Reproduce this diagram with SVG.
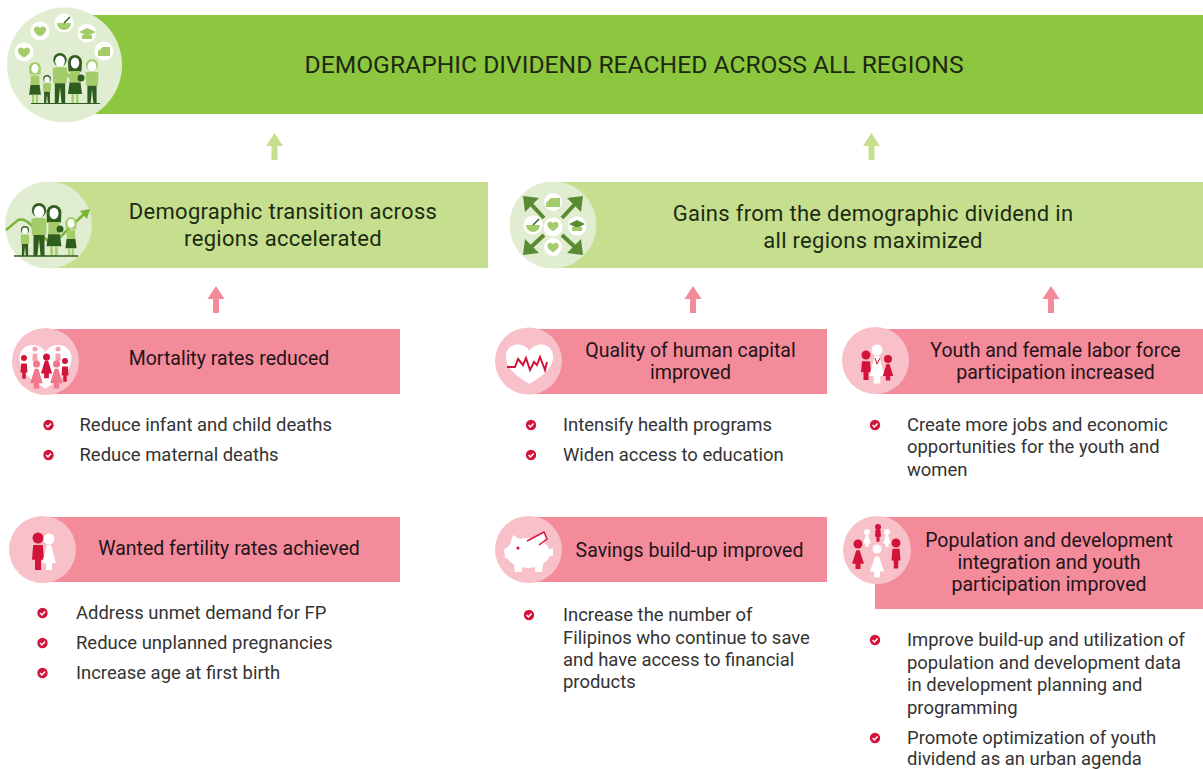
<svg xmlns="http://www.w3.org/2000/svg" width="1203" height="769" viewBox="0 0 1203 769">
<style>
text{font-family:Roboto,"Liberation Sans",sans-serif;fill:#2b2b2b}
.t1{font-size:24.65px;fill:#1d2a12;text-anchor:middle}
.t2{font-size:22px;fill:#1d2a12;text-anchor:middle;letter-spacing:.3px}
.t3{font-size:19.5px;fill:#231418;text-anchor:middle}
.b{font-size:18.45px;fill:#333}
.bar1{fill:#8dc63f}.bar2{fill:#c5df8e}.bar3{fill:#f48b9b}
.c1{fill:#e0edd0}.c3{fill:#f8c0c8}
.wh{fill:#fff}.cr{fill:#d2143a}.pk{fill:#f2768c}.lp{fill:#f7a0ae}
.dg{fill:#2f5d1e}.lg{fill:#a4cc6a}.mg{fill:#5a8a33}
.up1{fill:#c5df8e}.up2{fill:#f48b9b}
.ln{fill:none;stroke:#5a8a33;stroke-width:4}
</style>
<defs>
<g id="chk"><circle r="5.2" fill="#d2143a"/><path d="M-2.4,0 L-.6,1.9 L2.6,-1.6" fill="none" stroke="#fff" stroke-width="1.5"/></g>
<path id="up" d="M0,-13.500 L8.500,-0.500 L3,-0.500 L3,13.500 L-3,13.500 L-3,-0.500 L-8.500,-0.500 Z"/>
<path id="heart" d="M0,-6 C-4,-14 -20,-14 -20,-1 C-20,10 -8,17 0,22 C8,17 20,10 20,-1 C20,-14 4,-14 0,-6Z"/>
<g id="body-m"><path d="M-14,29 Q0,25 14,29 L13,58 H-13Z" class="lg"/><path d="M-10,58 H10 L10,97 H3 L0,66 L-3,97 H-10Z" class="dg"/></g>
<g id="man"><circle cy="13" r="13" class="dg"/><ellipse cy="16" rx="9.500" ry="11" class="wh"/><use href="#body-m"/></g>
<g id="man2"><circle cy="13" r="13" class="lg"/><ellipse cy="16" rx="9.500" ry="11" class="wh"/><use href="#body-m"/></g>
<g id="body-w"><path d="M-10,32 H10 L11,55 H-11Z" class="lg"/><path d="M-11,55 H11 L14,78 H-14Z" class="dg"/><path d="M-7,78 H-2 V97 H-7ZM2,78 H7 V97 H2Z" class="lg"/></g>
<g id="wom"><path d="M-14,14 A14,14 0 0 1 14,14 L13,33 H-13Z" class="dg"/><ellipse cy="16" rx="8.500" ry="11" class="wh"/><use href="#body-w"/></g>
<g id="wom2"><path d="M-14,14 A14,14 0 0 1 14,14 L13,30 H-13Z" class="lg"/><ellipse cy="16" rx="8.500" ry="11" class="wh"/><use href="#body-w"/></g>
<path id="pb" d="M-4,-8 H4 L5,5 H2.500 V14 H-2.500 V5 H-5Z"/>
<path id="pd" d="M-2,-8 H2 L7,8 H3 V14 H-3 V8 H-7Z"/>
</defs>

<g id="connectors">
<use href="#up" x="274.500" y="146.500" class="up1"/>
<use href="#up" x="871.500" y="146.500" class="up1"/>
<use href="#up" x="216" y="299.500" class="up2"/>
<use href="#up" x="693" y="299.500" class="up2"/>
<use href="#up" x="1051" y="299.500" class="up2"/>
</g>

<g id="goal">
<rect class="bar1" x="65" y="15" width="1138" height="99"/>
<circle class="c1" cx="64.500" cy="65" r="57.500"/>
<circle class="wh" cx="24" cy="52" r="9.500"/><circle class="wh" cx="40" cy="31" r="9.500"/><circle class="wh" cx="64" cy="23" r="9.500"/><circle class="wh" cx="87" cy="33" r="9.500"/><circle class="wh" cx="104" cy="51" r="9.500"/>
<use href="#heart" transform="translate(24,51) scale(.3)" class="lg"/>
<use href="#heart" transform="translate(40,30) scale(.3)" class="lg"/>
<path d="M57,23 H71 A7,7 0 0 1 57,23Z" class="lg"/><path d="M64,23 L70,17" stroke="#2f5d1e" stroke-width="1.500"/>
<path d="M79,32 L87,28 L96,32 L87,36Z" class="lg"/><path d="M82,35 H92 V39 H82Z" class="lg"/>
<path d="M98,51 L103,47 H110 V56 H98Z" class="lg"/>
<g transform="translate(35,62) scale(.42)"><use href="#wom2"/></g>
<g transform="translate(47,75) scale(.29)"><use href="#man"/></g>
<g transform="translate(60,53) scale(.52)"><use href="#man"/></g>
<path d="M66,74 L76,80" stroke="#a4cc6a" stroke-width="4"/>
<g transform="translate(75,55) scale(.5)"><use href="#wom"/></g>
<circle cx="81" cy="78" r="3.500" class="dg"/>
<g transform="translate(92,59) scale(.46)"><use href="#man2"/></g>
<path d="M31,103.500 H100" stroke="#2f5d1e" stroke-width="1"/>
<text class="t1" x="634" y="73">DEMOGRAPHIC DIVIDEND REACHED ACROSS ALL REGIONS</text>
</g>

<g id="transition">
<rect class="bar2" x="49" y="182" width="439" height="86"/>
<circle class="c1" cx="48.500" cy="225" r="43.500"/>
<path d="M6,230 L18,220 Q24,218 30,224 L52,245 L84,214" fill="none" stroke="#7ab536" stroke-width="2.500"/>
<path d="M90,209 L80,211 L87,219Z" fill="#7ab536"/>
<g transform="translate(25,226) scale(.31)"><use href="#man"/></g>
<g transform="translate(39,203) scale(.55)"><use href="#man"/></g>
<g transform="translate(54,205) scale(.53)"><use href="#wom"/></g>
<circle cx="60" cy="229" r="3.500" class="dg"/>
<g transform="translate(71,217) scale(.4)"><use href="#wom2"/></g>
<path d="M14,256 H78" stroke="#2f5d1e" stroke-width="1.500"/>
<text class="t2" x="283" y="219">Demographic transition across</text>
<text class="t2" x="283" y="246">regions accelerated</text>
</g>

<g id="gains">
<rect class="bar2" x="553" y="182" width="650" height="86"/>
<circle class="c1" cx="553" cy="225" r="43.500"/>
<path class="ln" d="M544,218 L530,203M562,218 L576,203M544,235 L530,248M562,235 L576,248"/>
<path class="mg" d="M523,196 L539,198 L525,212Z"/>
<path class="mg" d="M583,196 L567,198 L581,212Z"/>
<path class="mg" d="M523,255 L539,253 L525,239Z"/>
<path class="mg" d="M583,255 L567,253 L581,239Z"/>
<circle class="wh" cx="553" cy="202" r="9"/><circle class="wh" cx="533" cy="225" r="9.500"/><circle class="wh" cx="553" cy="227" r="9.500"/><circle class="wh" cx="577" cy="226" r="9.500"/><circle class="wh" cx="553" cy="247" r="9"/>
<path d="M546,203 L551,198 H560 V207 H546Z" class="lg"/>
<path d="M526,225 H540 A7,7 0 0 1 526,225Z" class="lg"/><path d="M533,225 L539,219" stroke="#2f5d1e" stroke-width="1.500"/>
<use href="#heart" transform="translate(553,225) scale(.28)" class="lg"/>
<path d="M569,224 L577,220 L585,224 L577,228Z" class="mg"/><path d="M572,227 H582 V231 H572Z" class="lg"/>
<use href="#heart" transform="translate(553,246) scale(.28)" class="lg"/>
<text class="t2" x="873" y="220.500">Gains from the demographic dividend in</text>
<text class="t2" x="873" y="247.500">all regions maximized</text>
</g>

<g id="mortality">
<rect class="bar3" x="45" y="329" width="355" height="65"/>
<circle class="c3" cx="45.500" cy="361.500" r="33.500"/>
<use href="#heart" transform="translate(45.500,360) scale(1.300)" class="wh"/>
<circle cx="24" cy="358" r="3" class="cr"/><use href="#pb" transform="translate(24,369) scale(.7)" class="cr"/>
<circle cx="35" cy="349" r="2.500" class="lp"/><use href="#pb" transform="translate(35,358) scale(.55)" class="lp"/>
<circle cx="36.500" cy="364" r="3.500" class="pk"/><use href="#pd" transform="translate(36.500,376) scale(.9)" class="pk"/>
<circle cx="46.500" cy="357" r="3.500" class="cr"/><use href="#pd" transform="translate(46.500,367) scale(.8)" class="cr"/>
<circle cx="58" cy="349" r="2.500" class="lp"/><use href="#pb" transform="translate(58,358) scale(.55)" class="lp"/>
<circle cx="56.500" cy="364" r="3.500" class="pk"/><use href="#pd" transform="translate(56.500,376) scale(.9)" class="pk"/>
<circle cx="65" cy="361" r="3" class="cr"/><use href="#pb" transform="translate(65,372) scale(.7)" class="cr"/>
<text class="t3" x="229" y="365">Mortality rates reduced</text>
</g>
<g id="mortality-list">
<use href="#chk" x="48.500" y="425"/><text class="b" x="79.500" y="431">Reduce infant and child deaths</text>
<use href="#chk" x="48.500" y="455"/><text class="b" x="79.500" y="461">Reduce maternal deaths</text>
</g>

<g id="fertility">
<rect class="bar3" x="43" y="517" width="357" height="65"/>
<circle class="c3" cx="42.500" cy="549.500" r="33.500"/>
<circle cx="38" cy="538" r="5.500" class="cr"/><use href="#pb" transform="translate(38,554) scale(1.200,1.140)" class="cr"/>
<circle cx="49" cy="539" r="5.500" class="wh"/><use href="#pd" transform="translate(49,554) scale(1,1.140)" class="wh"/>
<text class="t3" x="229" y="555">Wanted fertility rates achieved</text>
</g>
<g id="fertility-list">
<use href="#chk" x="42.500" y="613"/><text class="b" x="76" y="619">Address unmet demand for FP</text>
<use href="#chk" x="42.500" y="643"/><text class="b" x="76" y="649">Reduce unplanned pregnancies</text>
<use href="#chk" x="42.500" y="673"/><text class="b" x="76" y="679">Increase age at first birth</text>
</g>

<g id="quality">
<rect class="bar3" x="528" y="329" width="299" height="65"/>
<circle class="c3" cx="528.500" cy="361" r="33.500"/>
<use href="#heart" transform="translate(529.500,358) scale(1.180)" class="wh"/>
<path d="M507,367 H515 L518,359 L523,365 L526,358 L530,370 L534,362 L537,365 L540,357 L545,370 L547,362" fill="none" stroke="#d2143a" stroke-width="2"/>
<text class="t3" x="690.500" y="357">Quality of human capital</text>
<text class="t3" x="690.500" y="379">improved</text>
</g>
<g id="quality-list">
<use href="#chk" x="531" y="425"/><text class="b" x="563" y="431">Intensify health programs</text>
<use href="#chk" x="531" y="455"/><text class="b" x="563" y="461">Widen access to education</text>
</g>

<g id="savings">
<rect class="bar3" x="528" y="517" width="299" height="65"/>
<circle class="c3" cx="528.500" cy="549.500" r="33.500"/>
<ellipse cx="528" cy="553" rx="22" ry="15" class="wh"/>
<path d="M510,545 L513,535 L523,541ZM504,549 L512,546 V560 L505,558ZM513,560 H522 V572 H515ZM535,560 H544 L542,572 H535ZM548,550 L553,548 V556 L548,556Z" class="wh"/>
<circle cx="518" cy="548" r="1.600" class="cr"/>
<path d="M527,541 L544,532 L547,539 L539,545" fill="#fff" stroke="#d2143a" stroke-width="1.500"/>
<text class="t3" x="689.500" y="557">Savings build-up improved</text>
</g>
<g id="savings-list">
<use href="#chk" x="529" y="615"/>
<text class="b" x="563" y="621">Increase the number of</text>
<text class="b" x="563" y="644">Filipinos who continue to save</text>
<text class="b" x="563" y="666">and have access to financial</text>
<text class="b" x="563" y="688">products</text>
</g>

<g id="youth">
<rect class="bar3" x="875" y="329" width="328" height="65"/>
<circle class="c3" cx="875.500" cy="360.500" r="33.500"/>
<circle cx="866" cy="355" r="4.500" class="cr"/><use href="#pb" transform="translate(866,368) scale(1,.85)" class="cr"/>
<circle cx="877" cy="350" r="5.500" class="wh"/><use href="#pd" transform="translate(877,366) scale(1.100,1.250)" class="wh"/>
<path d="M875,358 L877,364 L880,358" fill="none" stroke="#d2143a" stroke-width="1"/>
<circle cx="888" cy="359" r="4" class="cr"/><use href="#pd" transform="translate(888,370) scale(.75)" class="cr"/>
<text class="t3" x="1055.500" y="357">Youth and female labor force</text>
<text class="t3" x="1055.500" y="379">participation increased</text>
</g>
<g id="youth-list">
<use href="#chk" x="875" y="425"/>
<text class="b" x="907" y="431">Create more jobs and economic</text>
<text class="b" x="907" y="453">opportunities for the youth and</text>
<text class="b" x="907" y="476">women</text>
</g>

<g id="integration">
<rect class="bar3" x="875" y="517" width="328" height="92"/>
<circle class="c3" cx="877" cy="550" r="34"/>
<circle cx="878" cy="527" r="3" class="cr"/><use href="#pb" transform="translate(878,534) scale(.6,.55)" class="cr"/>
<circle cx="867" cy="532" r="3" class="wh"/><use href="#pd" transform="translate(867,539) scale(.55)" class="wh"/>
<circle cx="887" cy="532" r="3" class="wh"/><use href="#pd" transform="translate(887,539) scale(.55)" class="wh"/>
<circle cx="858" cy="544" r="4.500" class="cr"/><use href="#pd" transform="translate(858,557) scale(.85)" class="cr"/>
<circle cx="896" cy="543" r="4.500" class="cr"/><use href="#pb" transform="translate(896,556) scale(.9)" class="cr"/>
<circle cx="877" cy="549" r="4.500" class="wh"/><use href="#pd" transform="translate(877,564) scale(1,.95)" class="wh"/>
<text class="t3" x="1049" y="547">Population and development</text>
<text class="t3" x="1049" y="569">integration and youth</text>
<text class="t3" x="1049" y="591">participation improved</text>
</g>
<g id="integration-list">
<use href="#chk" x="875" y="640"/>
<text class="b" x="907" y="646">Improve build-up and utilization of</text>
<text class="b" x="907" y="669">population and development data</text>
<text class="b" x="907" y="691">in development planning and</text>
<text class="b" x="907" y="714">programming</text>
<use href="#chk" x="875" y="738"/>
<text class="b" x="907" y="744">Promote optimization of youth</text>
<text class="b" x="907" y="765">dividend as an urban agenda</text>
</g>
</svg>
